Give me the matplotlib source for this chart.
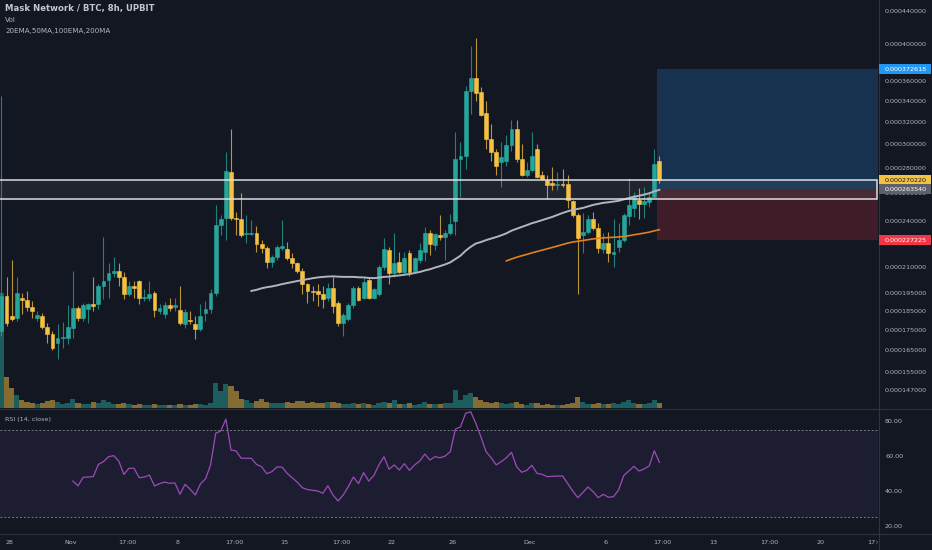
import matplotlib.pyplot as plt
import numpy as np
import pandas as pd
from matplotlib.patches import Rectangle
from matplotlib.lines import Line2D
from matplotlib.transforms import blended_transform_factory

# MASK/BTC 8h candles, prices in units of 1e-6 BTC
opens = [174.8, 193.6, 182.6, 181.5, 192.5, 191.4, 187.5, 181.5, 182.6, 176.8,
         173.3, 168.7, 171.3, 171.3, 176.3, 186.9, 181.5, 186.4, 189.1, 189.1,
         199.4, 202.9, 206.5, 207.7, 204.1, 194.7, 199.4, 202.3, 192.5, 192.5,
         195.3, 185.3, 183.7, 188.6, 187.5, 185.8, 178.4, 180.4, 178.4, 175.8,
         184.2, 186.4, 195.3, 237.6, 242.4, 276.6, 242.4, 241.7, 231.4, 231.4,
         232.1, 224.7, 222.1, 213.2, 216.3, 222.1, 221.5, 215.7, 212.6, 207.7,
         200.0, 196.4, 196.4, 194.7, 192.5, 198.2, 189.7, 178.9, 181.0, 188.6,
         198.2, 192.5, 202.9, 192.5, 194.7, 210.1, 220.8, 206.5, 213.2, 207.1,
         218.9, 207.7, 214.4, 219.5, 232.1, 224.1, 230.7, 229.3, 232.1, 240.3,
         287.3, 289.9, 350.5, 364.0, 349.5, 328.6, 304.6, 293.2, 284.8, 285.6,
         299.3, 313.6, 287.3, 274.9, 278.2, 295.8, 274.9, 270.9, 268.6, 267.0,
         267.8, 267.8, 254.9, 244.6, 230.7, 232.7, 241.7, 235.5, 221.5, 225.4,
         218.2, 222.8, 227.3, 243.9, 249.7, 255.6, 252.6, 254.1, 257.8, 285.6]
highs = [345.3, 204.1, 214.4, 204.1, 195.3, 196.4, 190.8, 185.3, 184.2, 178.9,
         174.8, 178.4, 179.4, 188.6, 207.7, 188.0, 189.7, 189.7, 204.1, 200.5,
         229.3, 212.6, 216.3, 212.6, 207.1, 202.3, 202.3, 202.9, 197.6, 202.3,
         196.4, 189.1, 190.2, 192.5, 192.5, 199.4, 186.4, 185.3, 182.6, 189.1,
         190.8, 197.6, 251.9, 244.6, 293.2, 313.6, 246.8, 260.9, 244.6, 241.0,
         236.9, 227.3, 223.4, 217.6, 224.1, 241.0, 226.0, 218.9, 213.2, 209.5,
         201.1, 199.4, 200.5, 199.4, 201.1, 204.1, 190.8, 184.2, 189.7, 199.4,
         199.4, 203.5, 203.5, 198.2, 211.3, 228.7, 222.8, 232.1, 219.5, 219.5,
         220.8, 216.3, 225.4, 236.2, 234.1, 232.1, 244.6, 234.1, 245.3, 310.9,
         302.0, 355.6, 398.5, 408.0, 354.5, 340.3, 318.3, 295.8, 302.0, 308.2,
         322.0, 322.0, 300.2, 284.8, 310.9, 300.2, 277.4, 274.9, 280.7, 276.6,
         279.0, 274.9, 255.6, 246.0, 246.0, 244.6, 246.8, 238.9, 232.1, 232.7,
         241.7, 238.9, 246.0, 272.5, 261.6, 264.7, 265.4, 261.6, 295.8, 289.9]
lows = [172.2, 177.3, 179.9, 179.9, 183.7, 185.3, 181.5, 179.9, 175.8, 168.7,
        165.3, 161.0, 166.3, 168.2, 171.3, 179.9, 179.9, 178.9, 185.3, 186.4,
        191.9, 192.5, 204.1, 199.4, 191.9, 193.6, 192.5, 189.1, 190.8, 190.8,
        182.1, 183.7, 181.5, 185.3, 185.3, 177.9, 176.3, 178.4, 170.7, 174.8,
        179.9, 184.2, 193.6, 230.7, 227.3, 241.0, 230.7, 229.3, 225.4, 230.7,
        219.5, 218.9, 209.5, 210.1, 214.4, 220.8, 214.4, 209.5, 206.5, 194.7,
        189.7, 190.8, 188.0, 186.9, 190.8, 184.2, 177.3, 172.2, 179.9, 186.9,
        190.8, 191.9, 191.9, 191.9, 193.6, 208.3, 200.5, 204.1, 206.5, 205.3,
        204.7, 207.1, 212.6, 213.8, 217.6, 220.8, 227.3, 214.4, 230.7, 230.7,
        257.8, 279.0, 327.7, 340.3, 325.8, 295.8, 285.6, 274.9, 265.4, 281.5,
        294.1, 284.8, 274.1, 273.3, 276.6, 272.5, 270.9, 256.4, 263.1, 263.1,
        265.4, 249.7, 243.2, 194.7, 218.9, 231.4, 234.1, 218.9, 218.9, 213.2,
        210.1, 219.5, 226.0, 237.6, 243.2, 241.7, 242.4, 250.4, 257.1, 268.6]
closes = [193.6, 178.9, 181.0, 195.3, 191.4, 187.5, 185.3, 183.1, 176.8, 173.3,
          166.3, 171.3, 171.8, 176.8, 186.9, 181.5, 188.6, 189.1, 188.0, 199.4,
          202.3, 206.5, 207.7, 204.1, 194.7, 199.4, 198.2, 192.5, 193.0, 194.7,
          185.8, 186.9, 188.6, 186.9, 188.6, 178.9, 184.8, 179.9, 175.8, 182.6,
          186.4, 195.3, 237.6, 241.7, 277.4, 242.4, 241.7, 230.7, 232.1, 232.1,
          224.7, 222.1, 213.2, 216.3, 222.8, 223.4, 215.7, 212.6, 207.7, 200.5,
          196.4, 195.8, 194.7, 191.9, 198.2, 188.0, 178.9, 183.1, 188.6, 198.2,
          191.4, 201.7, 192.5, 197.6, 210.1, 221.5, 206.5, 212.6, 207.1, 215.7,
          207.1, 215.7, 220.8, 232.1, 224.7, 231.4, 229.3, 232.1, 238.2, 287.3,
          289.9, 350.5, 364.0, 348.4, 326.7, 304.6, 293.2, 281.5, 289.0, 299.3,
          313.6, 287.3, 274.9, 278.2, 289.9, 273.3, 271.7, 267.0, 267.0, 267.8,
          267.0, 255.6, 244.6, 228.7, 232.7, 241.7, 235.5, 222.1, 225.4, 218.9,
          219.5, 227.3, 244.6, 251.9, 257.8, 252.6, 254.9, 257.8, 283.2, 270.22]
volume = [115, 31, 20, 13, 8, 6, 5, 4, 5, 7, 8, 6, 4, 5, 9, 5, 4, 4, 6, 5,
          8, 6, 4, 4, 5, 4, 3, 4, 3, 3, 4, 3, 3, 3, 3, 4, 3, 3, 4, 4,
          3, 5, 25, 17, 24, 22, 17, 9, 8, 5, 7, 9, 6, 5, 5, 5, 6, 5, 7, 7,
          5, 6, 5, 5, 6, 6, 5, 4, 4, 5, 4, 5, 4, 3, 5, 6, 5, 8, 4, 4,
          5, 3, 4, 6, 4, 4, 4, 5, 5, 18, 8, 13, 15, 11, 8, 6, 5, 6, 5, 4,
          5, 6, 4, 3, 5, 5, 3, 4, 3, 3, 3, 4, 5, 11, 6, 4, 4, 5, 4, 4,
          5, 4, 6, 8, 5, 4, 4, 5, 8, 5]
# RSI(14) from bar 14 on
rsi_start = 14
rsi = [45.7, 42.9, 47.8, 48.0, 48.2, 55.2, 56.8, 59.6, 60.2, 57.1,
       49.5, 53.0, 53.0, 47.6, 48.0, 49.1, 42.9, 44.2, 45.1, 44.4,
       44.6, 38.1, 43.8, 41.0, 37.7, 44.0, 46.9, 54.9, 73.0, 74.3,
       81.1, 63.4, 62.9, 58.7, 58.7, 58.7, 55.2, 53.9, 49.9, 51.0,
       53.7, 53.7, 50.1, 47.6, 45.0, 41.9, 40.8, 40.4, 40.0, 38.7,
       43.0, 37.7, 34.3, 37.7, 42.5, 48.0, 44.2, 50.5, 45.7, 48.8,
       54.9, 59.6, 52.4, 54.9, 52.0, 55.6, 51.8, 54.9, 57.1, 61.1,
       57.7, 59.6, 59.0, 60.0, 62.5, 75.4, 76.6, 84.4, 85.3, 78.7,
       71.0, 62.5, 59.0, 54.9, 56.8, 59.0, 62.1, 53.9, 50.7, 51.8,
       54.7, 50.1, 49.5, 48.2, 48.4, 48.5, 48.6, 44.4, 40.0, 36.2,
       39.2, 42.3, 39.6, 36.2, 38.1, 36.4, 36.8, 40.6, 48.8, 51.4,
       54.1, 51.4, 52.6, 54.3, 63.0, 56.4]

price_ticks = [0.00044, 0.0004, 0.00036, 0.00034, 0.00032, 0.0003, 0.00028, 0.00026,
               0.00024, 0.000225, 0.00021, 0.000195, 0.000185, 0.000175, 0.000165,
               0.000155, 0.000147]
rsi_ticks = [80, 60, 40, 20]
first_bar = pd.Timestamp('2021-10-27 12:00')
date_ticks = ['2021-10-28', '2021-11-01', '2021-11-04 17:00', '2021-11-08', '2021-11-11 17:00',
              '2021-11-15', '2021-11-18 17:00', '2021-11-22', '2021-11-26', '2021-12-01',
              '2021-12-06', '2021-12-09 17:00', '2021-12-13', '2021-12-16 17:00',
              '2021-12-20', '2021-12-23 17:00']
date_labels = ['28', 'Nov', '17:00', '8', '17:00', '15', '17:00', '22', '26', 'Dec',
               '6', '17:00', '13', '17:00', '20', '17:00']

# drawn levels (1e-6 BTC)
zone_top, zone_bottom = 270.8, 255.8
target, entry, stop = 372.618, 263.54, 227.225
last_price = closes[-1]

W, H = 932, 550
BG = '#131722'
UP = '#26a69a'
DOWN = '#f5c142'
TXT = '#b2b5be'
SEP = '#2f333e'
FS = 4.6


def fx(px):
    return px / W


def fy(px):
    return 1 - px / H


fig = plt.figure(figsize=(W / 100, H / 100), dpi=100, facecolor=BG)

x = np.arange(len(closes))
o = np.array(opens) * 1e-6
h = np.array(highs) * 1e-6
l = np.array(lows) * 1e-6
c = np.array(closes) * 1e-6
up = c >= o
cols = np.where(up, UP, DOWN)
xmin, xmax = -0.29, 171.86

# volume pane behind the price pane
axv = fig.add_axes([0, fy(408), fx(878), 408 / H])
axv.set_facecolor(BG)
axv.bar(x, volume, width=1.0, color=cols, alpha=0.5, linewidth=0)
axv.set_ylim(0, max(volume) * 3.55)
axv.set_xlim(xmin, xmax)
axv.axis('off')

ax = fig.add_axes([0, fy(408), fx(878), 408 / H])
ax.patch.set_visible(False)
ax.set_yscale('log')
ax.set_ylim(139.9e-6, 455.5e-6)
ax.set_xlim(xmin, xmax)
for s in ax.spines.values():
    s.set_visible(False)
ax.tick_params(which='both', left=False, bottom=False, labelleft=False, labelbottom=False)
ax.yaxis.set_minor_locator(plt.NullLocator())

# long position tool
ax.add_patch(Rectangle((128.5, entry * 1e-6), xmax - 128.5, (target - entry) * 1e-6,
                       facecolor='#2196f3', alpha=0.22, linewidth=0, zorder=1))
ax.add_patch(Rectangle((128.5, stop * 1e-6), xmax - 128.5, (entry - stop) * 1e-6,
                       facecolor='#f23645', alpha=0.2, linewidth=0, zorder=1))

# candles
ax.vlines(x, l, h, colors=cols, linewidth=0.8, alpha=0.75, zorder=3)
ax.bar(x, np.abs(c - o), bottom=np.minimum(o, c), width=0.75, color=cols,
       edgecolor=cols, linewidth=0.4, zorder=4)

# moving averages
s = pd.Series(closes) * 1e-6
ax.plot(x, s.rolling(50).mean(), color='#b2b5be', linewidth=1.4, zorder=5)
ax.plot(x, s.rolling(100).mean(), color='#e0801f', linewidth=1.2, zorder=5)

# horizontal zone
ax.add_patch(Rectangle((xmin - 2, zone_bottom * 1e-6), 171.7 - xmin + 2, (zone_top - zone_bottom) * 1e-6,
                       facecolor='white', alpha=0.06, linewidth=0, zorder=2))
ax.add_patch(Rectangle((xmin - 2, zone_bottom * 1e-6), 171.7 - xmin + 2, (zone_top - zone_bottom) * 1e-6,
                       facecolor='none', edgecolor='#dcdde0', linewidth=1.1, zorder=6))


def yfig(a, v):
    return fig.transFigure.inverted().transform(a.transData.transform((0, v)))[1]


# right price scale
for v in price_ticks:
    fig.text(fx(885), yfig(ax, v), f'{v:.9f}', color=TXT, fontsize=FS, va='center', ha='left')

for v, fc, tc in [(target, '#2196f3', 'white'), (last_price, '#f5c142', '#131722'),
                  (entry, '#5d606b', 'white'), (stop, '#f23645', 'white')]:
    yc = yfig(ax, v * 1e-6)
    fig.add_artist(Rectangle((fx(879), yc - 5 / H), fx(52), 10 / H, transform=fig.transFigure,
                             facecolor=fc, edgecolor='none', zorder=5))
    fig.text(fx(885), yc, f'{v * 1e-6:.9f}', color=tc, fontsize=FS, va='center', ha='left', zorder=6)

# legend text
fig.text(fx(5), fy(9), 'Mask Network / BTC, 8h, UPBIT', color='#c3c6ce', fontsize=6.1,
         fontweight='bold', va='center')
fig.text(fx(5), fy(20), 'Vol', color=TXT, fontsize=5.2, va='center')
fig.text(fx(5), fy(31), '20EMA,50MA,100EMA,200MA', color=TXT, fontsize=5.1, va='center')

# RSI pane
ax_r = fig.add_axes([0, fy(533), fx(878), 124 / H])
ax_r.set_facecolor(BG)
ax_r.set_xlim(xmin, xmax)
ax_r.set_ylim(16, 86.86)
for sp in ax_r.spines.values():
    sp.set_visible(False)
ax_r.tick_params(left=False, bottom=False, labelleft=False, labelbottom=False)
ax_r.axhspan(25, 75, color='#7e57c2', alpha=0.1, linewidth=0)
ax_r.axhline(75, color='#787b86', linewidth=0.7, dashes=(2, 2))
ax_r.axhline(25, color='#787b86', linewidth=0.7, dashes=(2, 2))
ax_r.plot(np.arange(rsi_start, rsi_start + len(rsi)), rsi, color='#9c4bb8', linewidth=0.9)
fig.text(fx(5), fy(419), 'RSI (14, close)', color=TXT, fontsize=FS, va='center')
for v in rsi_ticks:
    fig.text(fx(885), yfig(ax_r, v), f'{v:.2f}', color=TXT, fontsize=FS, va='center', ha='left')

# time axis
ax_d = fig.add_axes([0, 0, fx(878), 17 / H])
ax_d.set_xlim(xmin, xmax)
ax_d.axis('off')
tr = blended_transform_factory(ax_d.transData, ax_d.transAxes)
for d, lab in zip(date_ticks, date_labels):
    n = (pd.Timestamp(d) - first_bar) / pd.Timedelta(hours=8)
    ax_d.text(n, 0.47, lab, transform=tr, color=TXT, fontsize=FS, ha='center', va='center', clip_on=True)

# pane separators
for yy in [408.5, 533.5]:
    fig.add_artist(Line2D([0, 1], [fy(yy), fy(yy)], transform=fig.transFigure, color=SEP, linewidth=0.8))
fig.add_artist(Line2D([fx(878.5), fx(878.5)], [0, 1], transform=fig.transFigure, color=SEP, linewidth=0.8))

fig.savefig('out.png', dpi=100, facecolor=BG)
